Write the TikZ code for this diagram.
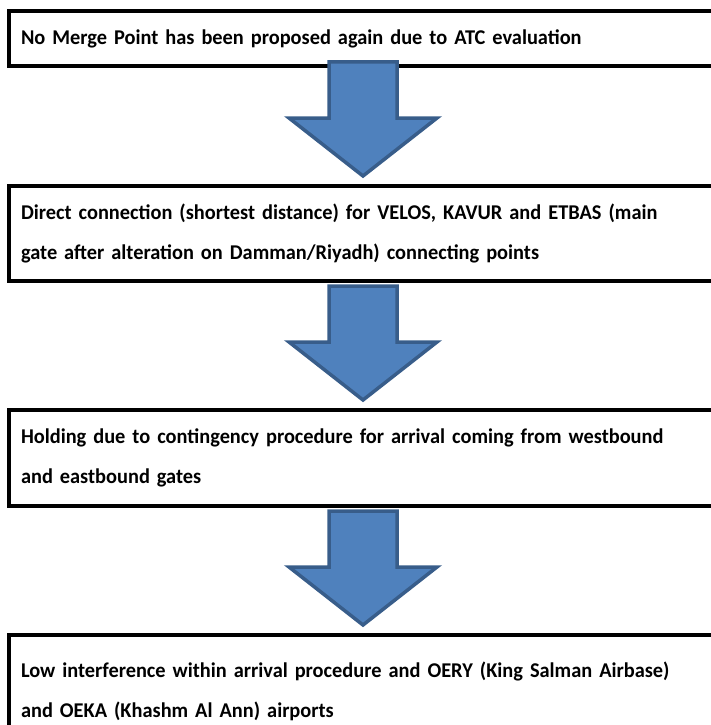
\documentclass[tikz,border=0pt]{standalone}
\usepackage{fontspec}
\setmainfont{Carlito}[FakeStretch=0.97, WordSpace=0.88]
\usetikzlibrary{positioning, calc}
\definecolor{arrowblue}{HTML}{4F81BD}
\definecolor{arrowedge}{HTML}{385D8A}
\tikzstyle{stepbox} = [rectangle, draw=black, line width=4pt, minimum width=740pt, text width=716pt, align=left, inner xsep=12pt, font=\bfseries\fontsize{21}{40}\selectfont]
\tikzstyle{blockarrow} = [fill=arrowblue, draw=arrowedge, line width=3.5pt, line join=miter]

\begin{document}
\begin{tikzpicture}[x=1pt, y=-1pt]
        \clip (0,0) rectangle (711,725);
        \coordinate (mid) at (363,0);

        \node (merge) [stepbox, anchor=north west, minimum height=55pt] at (7,9) {No Merge Point has been proposed again due to ATC evaluation};
        \node (direct) [stepbox, minimum height=95pt, below=116pt of merge.south west, anchor=north west] {Direct connection (shortest distance) for VELOS, KAVUR and ETBAS (main\\gate after alteration on Damman/Riyadh) connecting points};
        \node (holding) [stepbox, minimum height=96pt, below=125pt of direct.south west, anchor=north west] {Holding due to contingency procedure for arrival coming from westbound\\and eastbound gates};
        \node (lowint) [stepbox, minimum height=112pt, below=125pt of holding.south west, anchor=north west] {Low interference within arrival procedure and OERY (King Salman Airbase)\\and OEKA (Khashm Al Ann) airports};

        % block arrows between the boxes
        \foreach \from/\to/\gap in {merge/direct/6pt, direct/holding/-3pt, holding/lowint/-3pt}
            \draw [blockarrow] let \p1 = (\from.south -| mid), \p2 = (\to.north -| mid) in
                (\x1-34pt,\y1+\gap) -- (\x1+34pt,\y1+\gap) -- (\x1+34pt,\y2+66pt) -- (\x1+74pt,\y2+66pt)
                -- (\x2,\y2+8pt) -- (\x1-74pt,\y2+66pt) -- (\x1-34pt,\y2+66pt) -- cycle;

    \end{tikzpicture}
\end{document}
